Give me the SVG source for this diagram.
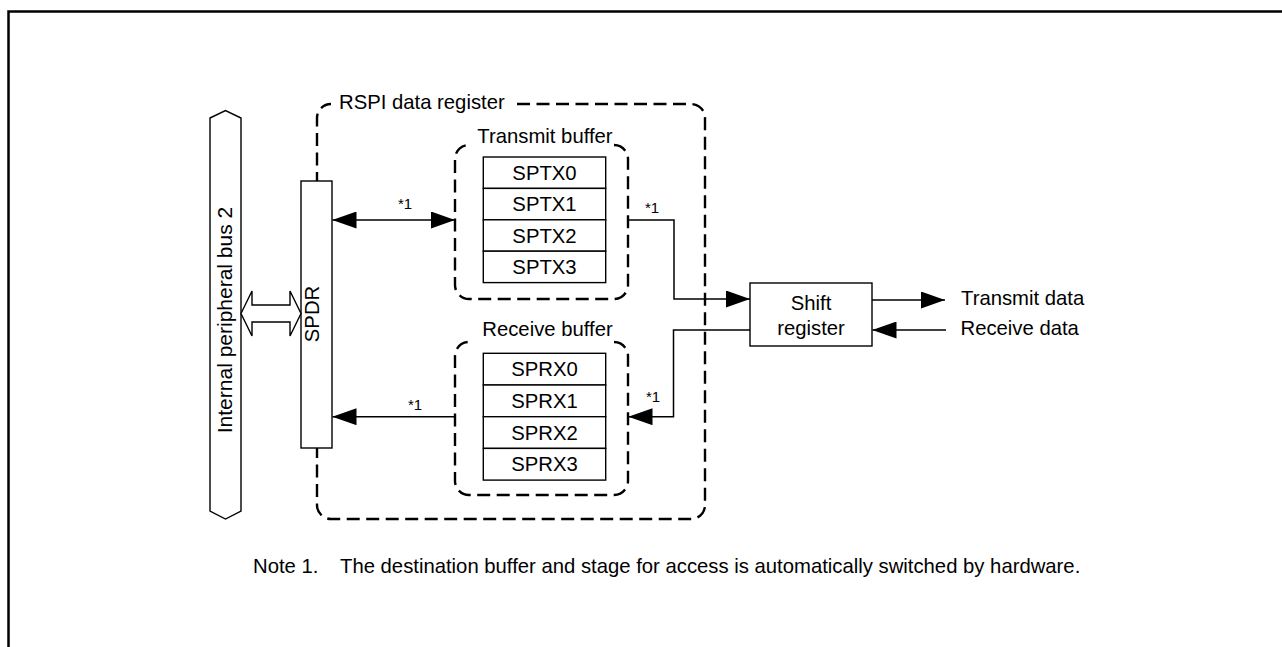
<svg xmlns="http://www.w3.org/2000/svg" width="1282" height="647" viewBox="0 0 1282 647">
<style>
.t { font-family: "Liberation Sans", Arial, sans-serif; font-size: 20.3px; fill: #000; }
.s { font-family: "Liberation Sans", Arial, sans-serif; font-size: 15px; fill: #000; }
.m { text-anchor: middle; }
.dash { fill: none; stroke: #000; stroke-width: 2.4; stroke-dasharray: 13 6.5; }
.box { fill: #fff; stroke: #000; stroke-width: 1.4; }
.ln { fill: none; stroke: #000; stroke-width: 1.5; }
</style>
<defs>
<marker id="ah" markerUnits="userSpaceOnUse" markerWidth="24" markerHeight="17" viewBox="0 0 24 17" refX="24" refY="8.5" orient="auto-start-reverse"><path d="M0,0 L24,8.5 L0,17 z" fill="#000"/></marker>
</defs>
<rect width="1282" height="647" fill="#fff"/>
<path d="M8.5,647 V11.5 H1282" fill="none" stroke="#000" stroke-width="2.5"/>

<g id="rspi-data-register">
<path class="dash" d="M517,104 H691 A14,14 0 0 1 705,118 V505 A14,14 0 0 1 691,519 H331 A14,14 0 0 1 317,505 V118 A14,14 0 0 1 331,104"/>
<text class="t" x="339" y="109">RSPI data register</text>
</g>

<g id="internal-bus">
<polygon class="box" points="210,118 225.5,110.5 241,118 241,511 225.5,519 210,511"/>
<text class="t m" transform="translate(232,320) rotate(-90)" x="0" y="0" style="font-size:21px">Internal peripheral bus 2</text>
</g>

<g id="spdr">
<rect class="box" x="301" y="181" width="31" height="267"/>
<text class="t m" transform="translate(319,314) rotate(-90)" x="0" y="0">SPDR</text>
</g>

<g id="transmit-buffer">
<path class="dash" d="M614,145 A14,14 0 0 1 628,159 V285 A14,14 0 0 1 614,299 H469 A14,14 0 0 1 455,285 V159 A14,14 0 0 1 469,145"/>
<text class="t m" x="545" y="143">Transmit buffer</text>
<rect class="box" x="483.3" y="157" width="122.4" height="31.4"/>
<rect class="box" x="483.3" y="188.4" width="122.4" height="31.4"/>
<rect class="box" x="483.3" y="219.8" width="122.4" height="31.4"/>
<rect class="box" x="483.3" y="251.2" width="122.4" height="31.4"/>
<text class="t m" x="544.5" y="180">SPTX0</text>
<text class="t m" x="544.5" y="211.3">SPTX1</text>
<text class="t m" x="544.5" y="242.7">SPTX2</text>
<text class="t m" x="544.5" y="274">SPTX3</text>
</g>

<g id="receive-buffer">
<path class="dash" d="M614,342 A14,14 0 0 1 628,356 V481 A14,14 0 0 1 614,495 H469 A14,14 0 0 1 455,481 V356 A14,14 0 0 1 469,342"/>
<text class="t m" x="547.5" y="336">Receive buffer</text>
<rect class="box" x="483.3" y="353.3" width="122.4" height="31.7"/>
<rect class="box" x="483.3" y="385" width="122.4" height="31.7"/>
<rect class="box" x="483.3" y="416.7" width="122.4" height="31.7"/>
<rect class="box" x="483.3" y="448.4" width="122.4" height="31.7"/>
<text class="t m" x="544.5" y="376.3">SPRX0</text>
<text class="t m" x="544.5" y="408">SPRX1</text>
<text class="t m" x="544.5" y="439.7">SPRX2</text>
<text class="t m" x="544.5" y="471.3">SPRX3</text>
</g>

<g id="shift-register">
<rect class="box" x="750" y="283" width="122" height="63"/>
<text class="t m" x="811" y="310">Shift</text>
<text class="t m" x="811" y="335">register</text>
</g>

<g id="transmit-data"><text class="t" x="961" y="305">Transmit data</text></g>
<g id="receive-data"><text class="t" x="960.5" y="335">Receive data</text></g>

<g id="connectors">
<polygon class="box" points="241,313.5 252,291 252,305 290,305 290,291 301,313.5 290,336 290,322 252,322 252,336"/>
<path class="ln" d="M332.5,220 H455" marker-start="url(#ah)" marker-end="url(#ah)"/>
<path class="ln" d="M455,416.7 H332.5" marker-end="url(#ah)"/>
<path class="ln" d="M628,220 H674 V299 H750" marker-end="url(#ah)"/>
<path class="ln" d="M750,330 H673.5 V416.7 H628.5" marker-end="url(#ah)"/>
<path class="ln" d="M872,300 H945" marker-end="url(#ah)"/>
<path class="ln" d="M946,330 H872.5" marker-end="url(#ah)"/>
<text class="s" x="398" y="209">*1</text>
<text class="s" x="408" y="410">*1</text>
<text class="s" x="645" y="213">*1</text>
<text class="s" x="646" y="402">*1</text>
</g>

<g id="note">
<text class="t" x="253" y="573">Note 1.<tspan x="340">The destination buffer and stage for access is automatically switched by hardware.</tspan></text>
</g>
</svg>
